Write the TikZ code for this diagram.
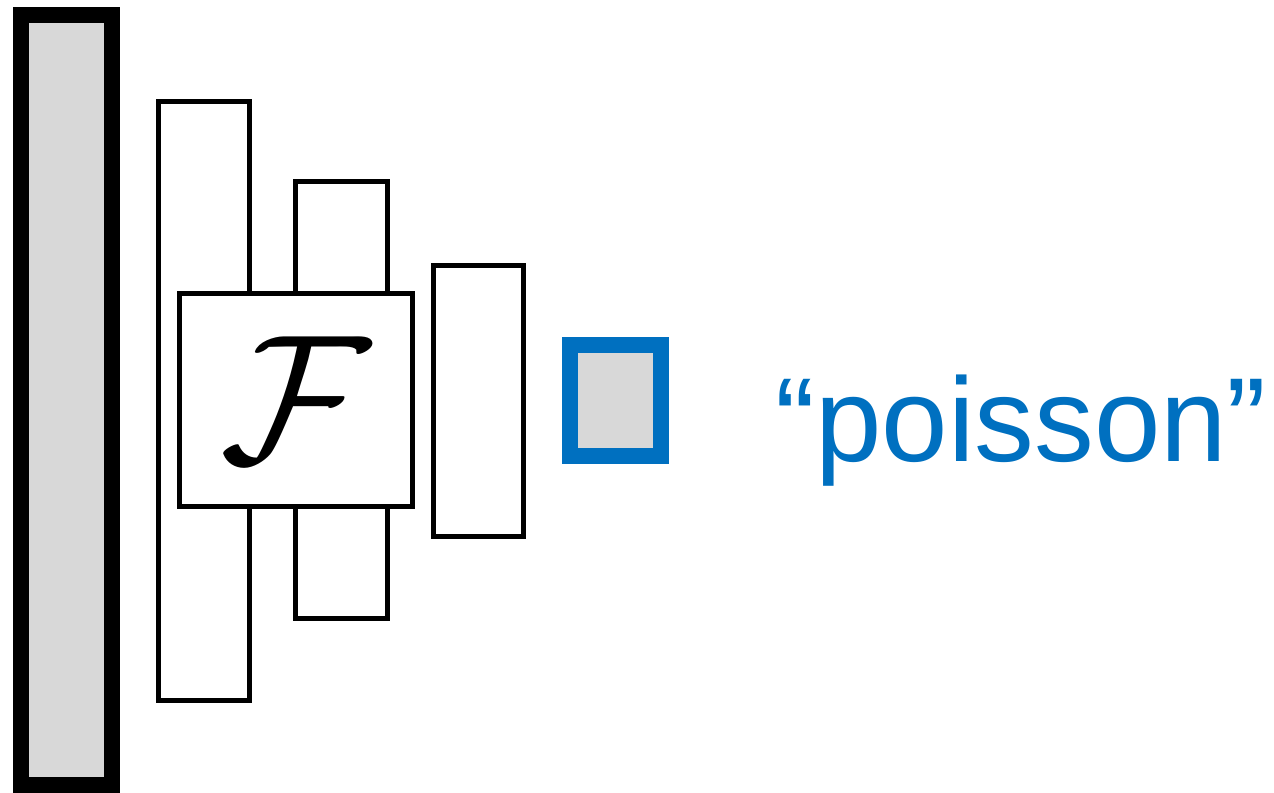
\documentclass[tikz,border=0pt]{standalone}
\usepackage{graphicx}
\usepackage{fontspec}
\newfontfamily\labelfont{Liberation Sans}
\usetikzlibrary{positioning}
\definecolor{inputgray}{RGB}{216,216,216}
\definecolor{outblue}{RGB}{0,112,192}

\begin{document}
\begin{tikzpicture}[
    layer/.style={draw, line width=0.1cm, fill=white, inner sep=0pt, minimum width=1.82cm},
    bigbox/.style={draw, line width=0.32cm, fill=inputgray, inner sep=0pt},
    outbox/.style={draw=outblue, line width=0.32cm, fill=inputgray, inner sep=0pt},
    fbox/.style={draw, line width=0.1cm, fill=white, inner sep=0pt, minimum width=4.66cm, minimum height=4.25cm}
]
    \useasboundingbox (0,0) rectangle (25.48,15.86);
    % input
    \node[bigbox, minimum width=1.82cm, minimum height=15.4cm] (input) at (1.33,7.86) {};
    % layers
    \node[layer, minimum height=11.98cm] (layerA) at (4.08,7.84) {};
    \node[layer, minimum width=1.84cm, minimum height=8.74cm] (layerB) at (6.82,7.85) {};
    \node[layer, minimum width=1.80cm, minimum height=5.42cm] (layerC) at (9.56,7.83) {};
    \node[fbox] (feat) at (5.92,7.855) {\scalebox{4.2}{\Huge$\mathcal{F}$}};
    % output
    \node[outbox, minimum width=1.82cm, minimum height=2.21cm] (out) at (12.31,7.845) {};
    \node[anchor=base west, inner sep=0pt, text=outblue] (label) at (15.5,6.62)
        {\labelfont\fontsize{68}{80}\selectfont “poisson”};
\end{tikzpicture}
\end{document}
